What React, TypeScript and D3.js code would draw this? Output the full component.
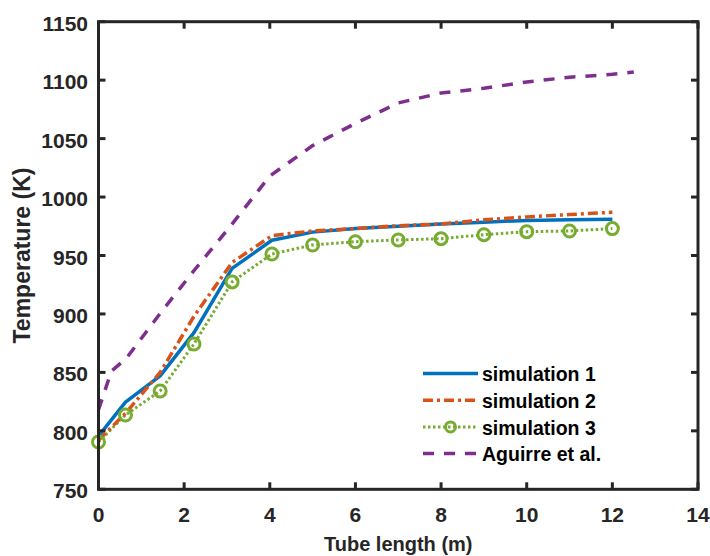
import React from "react";
import * as d3 from "d3";

const xTicks = [0, 2, 4, 6, 8, 10, 12, 14];
const yTicks = [750, 800, 850, 900, 950, 1000, 1050, 1100, 1150];

const simX = [0, 0.63, 1.44, 2.23, 3.12, 4.05, 5, 6, 7, 8, 9, 10, 11, 12];
const sim1 = [795.5, 824.5, 847, 884, 939, 963, 970, 973, 975, 977, 978.5, 980, 980.5, 981];
const sim2 = [792, 815, 850, 898, 944, 967, 971, 973, 975.5, 977, 980.5, 983, 985, 987];
const sim3 = [790.5, 813.6, 834.1, 874.3, 927.4, 951.3, 959, 961.8, 963.3, 964.4, 967.8, 970.4, 971, 973];

const aguirreX = [0, 0.3, 0.65, 1.45, 2.25, 3.1, 4, 5, 6, 7, 8, 9, 10, 11, 12, 12.5];
const aguirre = [818, 851, 862, 901, 938, 976, 1018, 1044, 1063, 1080.5, 1089, 1093, 1098.5, 1102.5, 1105, 1107];

const legendLabels = ["simulation 1", "simulation 2", "simulation 3", "Aguirre et al."];

const W = 710;
const H = 556;
const X0 = 98.5, X1 = 698, Y0 = 21.7, Y1 = 489.3;
const AXIS = "#262626";
const FONT = "'Liberation Sans', Arial, Helvetica, sans-serif";

const C1 = "#0072BD", C2 = "#D95319", C3 = "#77AC30", C4 = "#7E2F8E";

export default function App() {
  const x = d3.scaleLinear().domain([0, 14]).range([X0, X1]);
  const y = d3.scaleLinear().domain([750, 1150]).range([Y1, Y0]);
  const line = d3.line<[number, number]>().x((d) => x(d[0])).y((d) => y(d[1]));

  const s1 = line(simX.map((v, i) => [v, sim1[i]]))!;
  const s2 = line(simX.map((v, i) => [v, sim2[i]]))!;
  const s3 = line(simX.map((v, i) => [v, sim3[i]]))!;
  const s4 = line(aguirreX.map((v, i) => [v, aguirre[i]]))!;

  const styles = [
    { color: C1, dash: undefined as string | undefined, width: 3.5 },
    { color: C2, dash: "10,4,3,4", width: 3.5 },
    { color: C3, dash: "2.5,2.5", width: 3 },
    { color: C4, dash: "11,10", width: 3.5 },
  ];

  const legX0 = 423, legX1 = 478, legTextX = 482;
  const legY = [373.5, 400.2, 426.9, 453.6];

  return (
    <svg width={W} height={H} style={{ position: "absolute", left: 0, top: 0, background: "#fff" }} fontFamily={FONT}>
      <rect x={0} y={0} width={W} height={H} fill="#fff" />
      {/* data */}
      <path d={s4} fill="none" stroke={C4} strokeWidth={3.5} strokeDasharray="11,10" />
      <path d={s3} fill="none" stroke={C3} strokeWidth={3} strokeDasharray="2.5,2.5" />
      <path d={s1} fill="none" stroke={C1} strokeWidth={3.5} strokeLinejoin="round" />
      <path d={s2} fill="none" stroke={C2} strokeWidth={3.5} strokeDasharray="10,4,3,4" />
      {simX.map((v, i) => (
        <circle key={i} cx={x(v)} cy={y(sim3[i])} r={6} fill="none" stroke={C3} strokeWidth={3} />
      ))}
      {/* axes box */}
      <rect x={X0} y={Y0} width={X1 - X0} height={Y1 - Y0} fill="none" stroke={AXIS} strokeWidth={3} />
      {xTicks.map((t) => (
        <g key={"xt" + t}>
          <line x1={x(t)} x2={x(t)} y1={Y1} y2={Y1 - 7} stroke={AXIS} strokeWidth={3} />
          <line x1={x(t)} x2={x(t)} y1={Y0} y2={Y0 + 7} stroke={AXIS} strokeWidth={3} />
          <text x={x(t)} y={522} textAnchor="middle" fontSize={21} fontWeight="bold" fill={AXIS}>{t}</text>
        </g>
      ))}
      {yTicks.map((t) => (
        <g key={"yt" + t}>
          <line x1={X0} x2={X0 + 7} y1={y(t)} y2={y(t)} stroke={AXIS} strokeWidth={3} />
          <line x1={X1} x2={X1 - 7} y1={y(t)} y2={y(t)} stroke={AXIS} strokeWidth={3} />
          <text x={88} y={y(t) + 9} textAnchor="end" fontSize={21} fontWeight="bold" fill={AXIS}>{t}</text>
        </g>
      ))}
      <text x={(X0 + X1) / 2} y={551} textAnchor="middle" fontSize={20} fontWeight="bold" fill={AXIS}>Tube length (m)</text>
      <text transform={`translate(30,${(Y0 + Y1) / 2}) rotate(-90)`} textAnchor="middle" fontSize={23} fontWeight="bold" fill={AXIS}>Temperature (K)</text>
      {/* legend */}
      {legendLabels.map((lab, i) => (
        <g key={lab}>
          <line x1={legX0} x2={legX1} y1={legY[i]} y2={legY[i]} stroke={styles[i].color} strokeWidth={styles[i].width} strokeDasharray={styles[i].dash} />
          {i === 2 && <circle cx={(legX0 + legX1) / 2} cy={legY[i]} r={5} fill="none" stroke={C3} strokeWidth={3} />}
          <text x={legTextX} y={legY[i] + 7.8} fontSize={19.5} fontWeight="bold" fill="#000">{lab}</text>
        </g>
      ))}
    </svg>
  );
}
